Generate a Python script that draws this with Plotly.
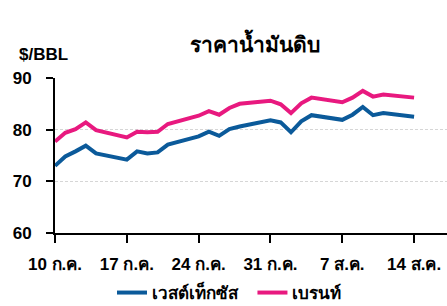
import plotly.graph_objects as go

dates = ["2023-07-10", "2023-07-11", "2023-07-12", "2023-07-13", "2023-07-14",
         "2023-07-17", "2023-07-18", "2023-07-19", "2023-07-20", "2023-07-21",
         "2023-07-24", "2023-07-25", "2023-07-26", "2023-07-27", "2023-07-28",
         "2023-07-31", "2023-08-01", "2023-08-02", "2023-08-03", "2023-08-04",
         "2023-08-07", "2023-08-08", "2023-08-09", "2023-08-10", "2023-08-11",
         "2023-08-14"]
wti = [73.0, 74.8, 75.8, 76.9, 75.4,
       74.2, 75.8, 75.4, 75.6, 77.1,
       78.7, 79.6, 78.8, 80.1, 80.6,
       81.8, 81.4, 79.5, 81.6, 82.8,
       81.9, 82.9, 84.4, 82.8, 83.2,
       82.5]
brent = [77.7, 79.4, 80.1, 81.4, 79.9,
         78.5, 79.6, 79.5, 79.6, 81.1,
         82.7, 83.6, 82.9, 84.2, 85.0,
         85.6, 84.9, 83.2, 85.1, 86.2,
         85.3, 86.2, 87.5, 86.4, 86.8,
         86.2]
tick_dates = ["2023-07-10", "2023-07-17", "2023-07-24", "2023-07-31", "2023-08-07", "2023-08-14"]
tick_text = ["10 ก.ค.", "17 ก.ค.", "24 ก.ค.", "31 ก.ค.", "7 ส.ค.", "14 ส.ค."]
y_ticks = [60, 70, 80, 90]
names = ["เวสต์เท็กซัส", "เบรนท์"]
colors = ["#0b5a9a", "#e8197f"]

fig = go.Figure()
for i, (vals, name, col) in enumerate(zip([wti, brent], names, colors)):
    label = "<b>" + name + "</b>" + ("\u00a0\u00a0" if i == 0 else "")
    fig.add_trace(go.Scatter(x=dates, y=vals, mode="lines", name=label,
                             line=dict(color=col, width=4)))

font_fam = "Liberation Sans, Arial, sans-serif"
fig.update_layout(
    width=447, height=306,
    margin=dict(l=55, r=0, t=78, b=73, autoexpand=False),
    paper_bgcolor="white", plot_bgcolor="white",
    font=dict(family=font_fam, color="black", size=16),
    title=dict(text="<b>ราคาน้ำมันดิบ</b>", xref="paper", x=0.51, xanchor="center",
               y=1 - 45 / 306, yanchor="middle", font=dict(size=21, color="black")),
    showlegend=True,
    legend=dict(orientation="h", x=(112 - 55) / 392, xanchor="left",
                y=-(293 - 233) / 155, yanchor="middle",
                font=dict(size=17, color="black"), itemwidth=30, tracegroupgap=0),
    xaxis=dict(type="date", range=["2023-07-10", "2023-08-17 05:00"],
               tickvals=tick_dates, ticktext=["<b>" + t + "</b>" for t in tick_text],
               showgrid=False, zeroline=False, automargin=False,
               showline=True, linecolor="black", linewidth=2,
               ticks="outside", ticklen=8, tickwidth=2, tickcolor="black",
               tickfont=dict(size=17, color="black", family=font_fam),
               ticklabelstandoff=7, fixedrange=True),
    yaxis=dict(range=[60, 90], tickvals=y_ticks,
               ticktext=["<b>" + str(v) + "</b>" for v in y_ticks],
               showgrid=True, gridcolor="#d6d6d6", griddash="3px,2px", gridwidth=1,
               zeroline=False, showline=True, linecolor="black", linewidth=2,
               ticks="outside", ticklen=7, tickwidth=2, tickcolor="black",
               tickfont=dict(size=17, color="black", family=font_fam),
               ticklabelstandoff=11, automargin=False, fixedrange=True),
    annotations=[dict(text="<b>$/BBL</b>", xref="paper", yref="paper",
                      x=-38 / 392, y=1 + (78 - 54) / 155,
                      xanchor="left", yanchor="middle", showarrow=False,
                      font=dict(size=17, color="black"))],
)
fig.write_html("out.html")
